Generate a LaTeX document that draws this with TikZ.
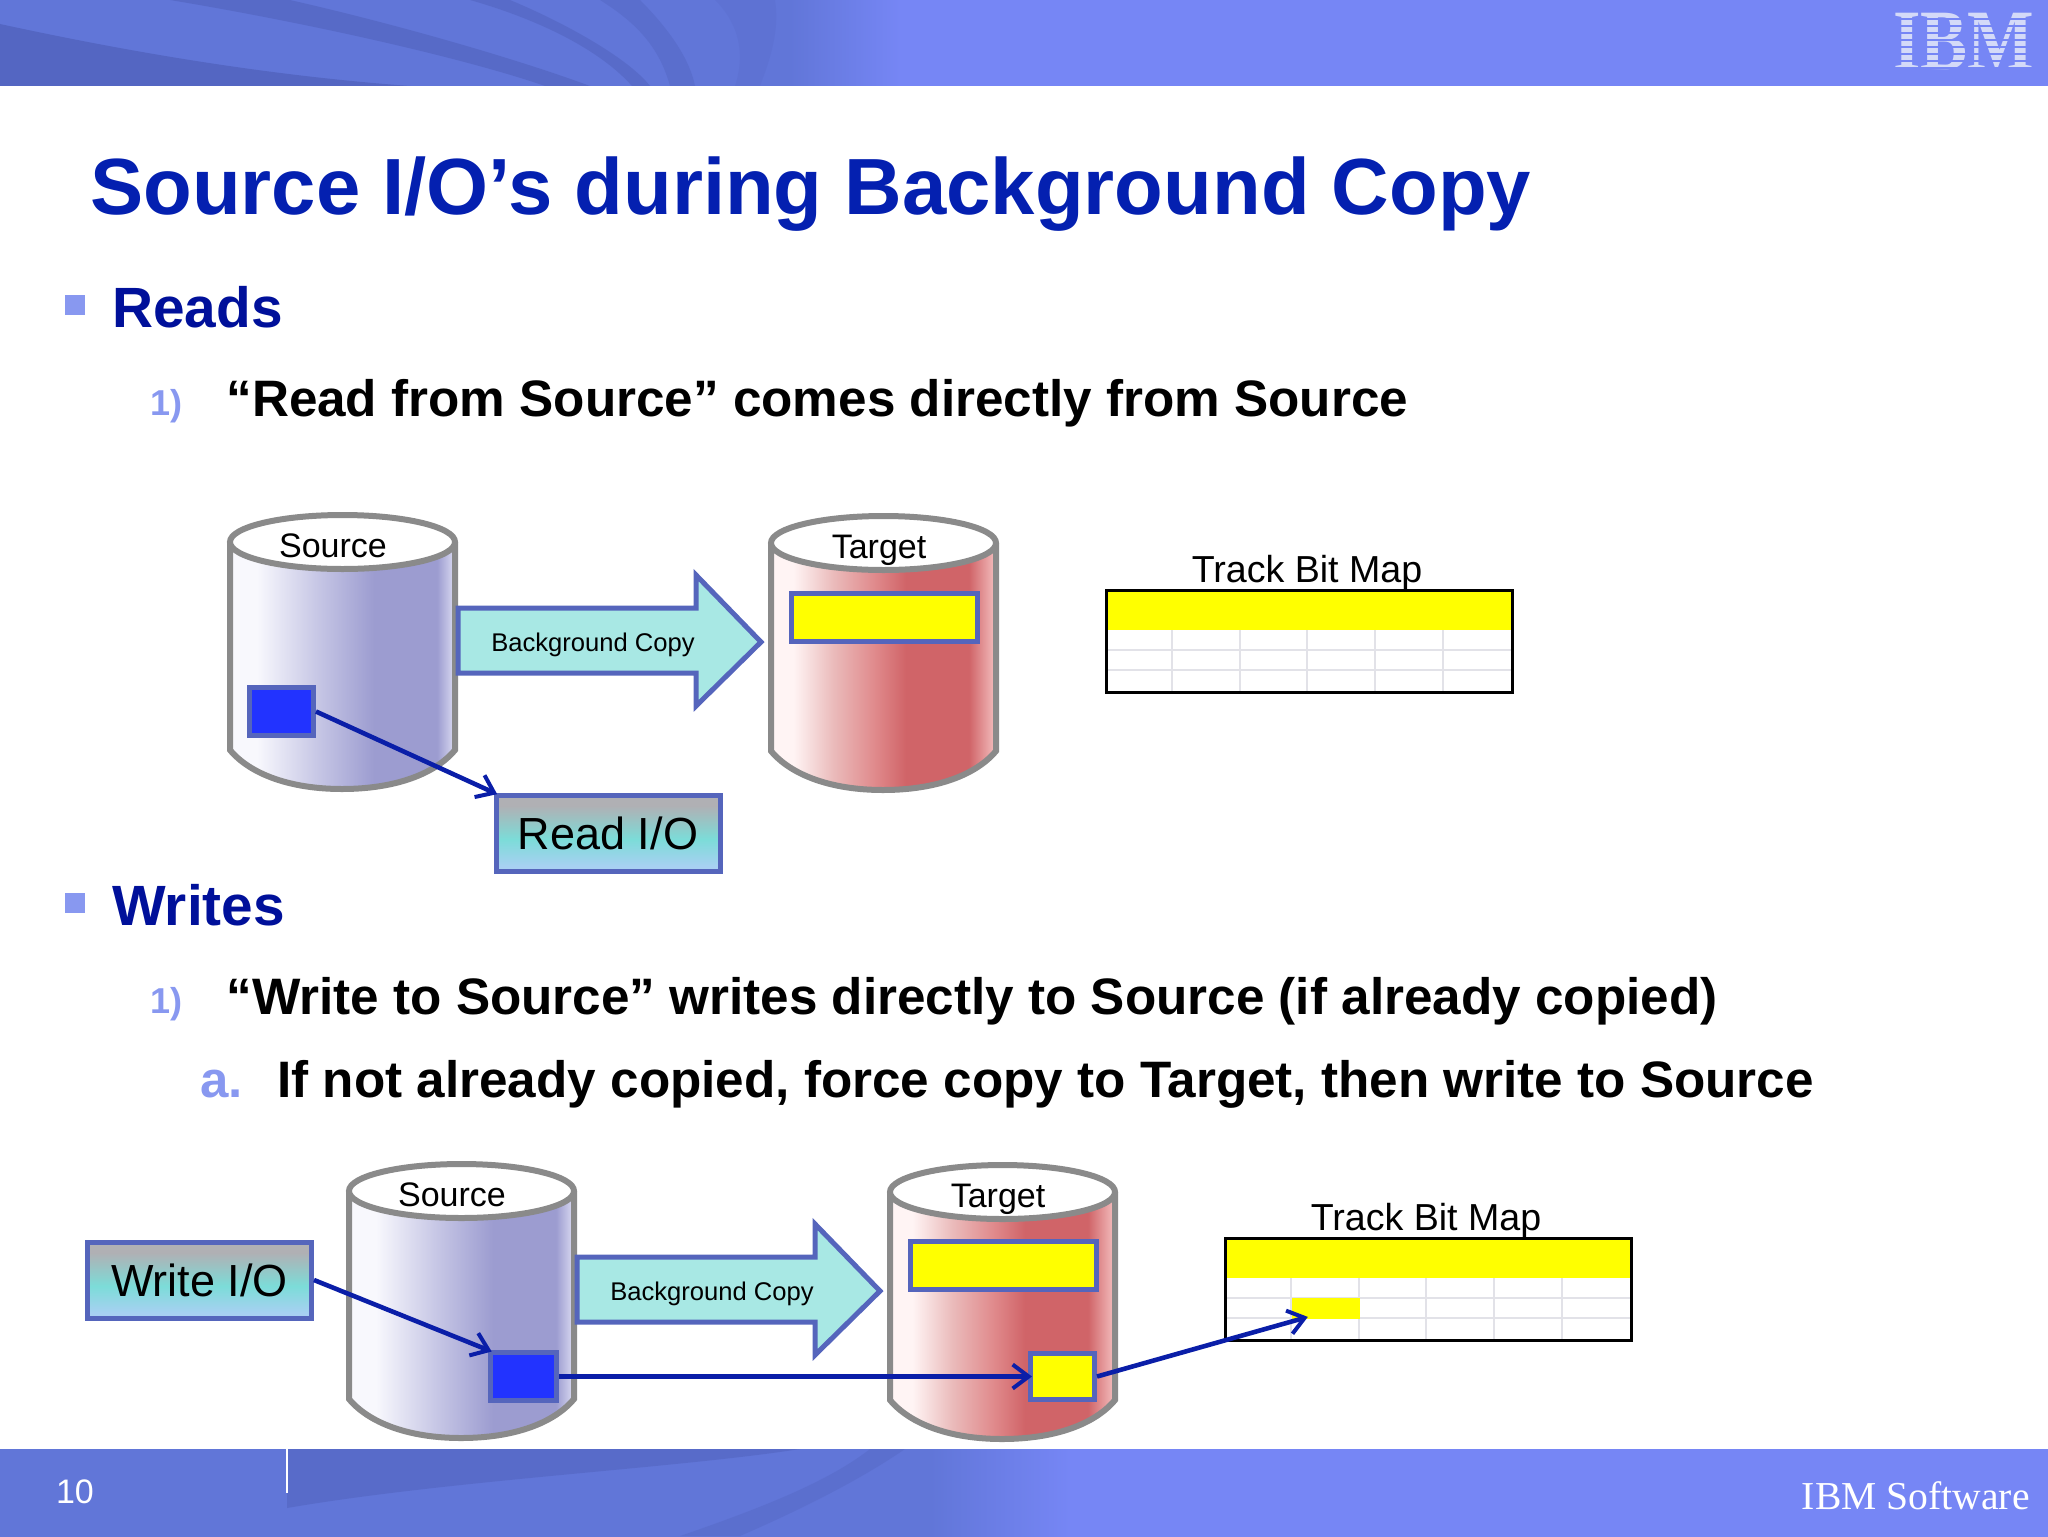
\documentclass[tikz,border=0pt]{standalone}
\usepackage{fontspec}
\setmainfont{Liberation Sans}
\newfontfamily\seriffont{Liberation Serif}
\usetikzlibrary{arrows.meta}

\definecolor{bandblue}{HTML}{7686F5}
\definecolor{banddark}{HTML}{6176D8}
\definecolor{swoosh}{HTML}{4C5CB4}
\definecolor{titleblue}{HTML}{0420B0}
\definecolor{navy}{HTML}{00109A}
\definecolor{arrowblue}{HTML}{0A1EA8}
\definecolor{edgeblue}{HTML}{5565BC}
\definecolor{markblue}{HTML}{8898F0}
\definecolor{drumgrey}{HTML}{8A8A8A}
\definecolor{aqua}{HTML}{A8E8E4}
\definecolor{gridgrey}{HTML}{E2E2E8}
\definecolor{sqblue}{HTML}{2233FF}
\definecolor{marker}{HTML}{FFFF00}
\definecolor{logolight}{HTML}{D4DAF8}

\definecolor{srcA}{HTML}{F8F8FD}
\definecolor{srcB}{HTML}{C8C8E6}
\definecolor{srcC}{HTML}{9C9CD0}
\definecolor{srcD}{HTML}{DCDCF2}
\definecolor{tgtA}{HTML}{FFF4F4}
\definecolor{tgtB}{HTML}{EABABA}
\definecolor{tgtM}{HTML}{E08A8C}
\definecolor{tgtC}{HTML}{D06468}
\definecolor{tgtD}{HTML}{F4C0C0}
\definecolor{ioTop}{HTML}{B0B0B4}
\definecolor{ioMid}{HTML}{7CDCD8}
\definecolor{ioLow}{HTML}{A8D0F2}

\pgfdeclarehorizontalshading{sourcefill}{100bp}{color(0bp)=(srcA);color(31bp)=(srcA);
  color(44bp)=(srcB);color(57bp)=(srcC);color(71bp)=(srcC);color(75bp)=(srcD);color(100bp)=(srcD)}
\pgfdeclarehorizontalshading{targetfill}{100bp}{color(0bp)=(tgtA);color(30bp)=(tgtA);
  color(39bp)=(tgtB);color(48bp)=(tgtM);color(55bp)=(tgtC);color(69bp)=(tgtC);color(75bp)=(tgtD);color(100bp)=(tgtD)}
\pgfdeclareverticalshading{iofill}{100bp}{color(0bp)=(ioLow);color(28bp)=(ioLow);
  color(46bp)=(ioMid);color(68bp)=(ioTop);color(100bp)=(ioTop)}

\tikzset{
  bigtitle/.style={anchor=base west,inner sep=0pt,text=titleblue,font=\fontsize{39.85}{48}\selectfont\bfseries},
  headitem/.style={anchor=base west,inner sep=0pt,text=navy,font=\fontsize{28.4}{34}\selectfont\bfseries},
  subitem/.style={anchor=base west,inner sep=0pt,font=\fontsize{25.62}{30}\selectfont\bfseries},
  submark/.style={anchor=base west,inner sep=0pt,text=markblue,font=\fontsize{18}{22}\selectfont\bfseries},
  lettermark/.style={anchor=base west,inner sep=0pt,text=markblue,font=\fontsize{25.5}{30}\selectfont\bfseries},
  bullet/.style={fill=markblue,draw=none,minimum width=10pt,minimum height=10pt,inner sep=0pt},
  drumlabel/.style={anchor=base,inner sep=0pt,font=\fontsize{17}{20}\selectfont},
  maplabel/.style={anchor=base,inner sep=0pt,font=\fontsize{18.8}{22}\selectfont},
  copylabel/.style={inner sep=0pt,font=\fontsize{12.8}{15}\selectfont},
  iobox/.style={draw=edgeblue,line width=2.5pt,shade,shading=iofill,inner sep=0pt,font=\fontsize{22.5}{27}\selectfont,
    minimum width=112pt,minimum height=38pt},
  block/.style={draw=edgeblue,line width=2.5pt,inner sep=0pt,anchor=north west},
  link/.style={draw=arrowblue,line width=2.3pt,shorten >=-2pt,-{Straight Barb[length=8pt,width=12pt,line width=2pt]}},
  footertext/.style={inner sep=0pt,anchor=base,text=white},
}

% x y shading label labelx
\newcommand{\drum}[5]{
  \begin{scope}[shift={(#1,#2)}]
    \shade[shading=#3] (0,27) -- (0,235) .. controls (20,259) and (60,274) .. (112,274) .. controls (165,274) and (205,259) .. (225,235) -- (225,27) -- cycle;
    \draw[drumgrey,line width=3pt] (0,27) -- (0,235) .. controls (20,259) and (60,274) .. (112,274) .. controls (165,274) and (205,259) .. (225,235) -- (225,27);
    \draw[drumgrey,line width=3pt,fill=white] (112.5,27) ellipse [x radius=112.5,y radius=27];
    \node[drumlabel] at (#5,42) {#4};
  \end{scope}
}

% x y name
\newcommand{\copyarrow}[3]{
  \begin{scope}[shift={(#1,#2)}]
    \draw[edgeblue,line width=2.5pt,fill=aqua] (3,93) -- (241,93) -- (241,60) -- (306,127) -- (241,191) -- (241,158) -- (3,158) -- cycle;
    \node[copylabel] (#3) at (138,130) {Background Copy};
  \end{scope}
}

% x y name
\newcommand{\bitmap}[3]{
  \begin{scope}[shift={(#1,#2)}]
    \fill[marker] (0,0) rectangle (406,41);
    \foreach \yline in {61,81}
      \draw[gridgrey,line width=0.7pt] (0,\yline) -- (406,\yline);
    \foreach \xline in {67,135,202,270,338}
      \draw[gridgrey,line width=0.7pt] (\xline,41) -- (\xline,102);
    \node[draw=black,line width=1.5pt,inner sep=0pt,anchor=north west,minimum width=203pt,minimum height=51pt] (#3) at (0,0) {};
    \node[maplabel] at (202,-7) {Track Bit Map};
  \end{scope}
}

\begin{document}
\begin{tikzpicture}[x=0.5pt,y=0.5pt,yscale=-1,xscale=1]
\useasboundingbox (0,0) rectangle (2048,1536);

% header band
\fill[bandblue] (0,0) rectangle (2048,86);
\fill[banddark] (0,0) rectangle (790,86);
\shade[left color=banddark,right color=bandblue] (790,0) rectangle (900,86);
\fill[swoosh,opacity=0.45] (170,0) -- (290,0) .. controls (400,25) and (520,60) .. (590,86) -- (545,86) .. controls (470,60) and (320,25) .. (170,0) -- cycle;
\fill[swoosh,opacity=0.4] (470,0) -- (510,0) .. controls (570,25) and (630,60) .. (650,86) -- (632,86) .. controls (600,50) and (540,20) .. (470,0) -- cycle;
\fill[swoosh,opacity=0.3] (600,0) -- (640,0) .. controls (670,30) and (690,60) .. (695,86) -- (670,86) .. controls (660,50) and (640,25) .. (600,0) -- cycle;
\fill[swoosh,opacity=0.12] (715,0) -- (775,0) .. controls (780,30) and (770,60) .. (760,86) -- (735,86) .. controls (745,55) and (740,25) .. (715,0) -- cycle;
\fill[swoosh,opacity=0.6] (0,24) .. controls (120,50) and (260,75) .. (410,86) -- (0,86) -- cycle;
\node[inner sep=0pt,text=logolight,font=\fontsize{43}{50}\seriffont\bfseries,xscale=0.82] (ibmlogo) at (1964,41) {IBM};
\foreach \ystripe in {18,25,...,67}
  \fill[bandblue] (1885,\ystripe) rectangle (2040,\ystripe+2);

% footer band
\fill[bandblue] (0,1449) rectangle (2048,1540);
\fill[banddark] (0,1449) rectangle (930,1540);
\shade[left color=banddark,right color=bandblue] (930,1449) rectangle (1070,1540);
\fill[swoosh,opacity=0.4] (287,1449) -- (800,1449) .. controls (680,1468) and (450,1480) .. (287,1508) -- cycle;
\fill[swoosh,opacity=0.25] (905,1449) .. controls (860,1480) and (800,1510) .. (740,1536) -- (680,1536) .. controls (770,1505) and (830,1480) .. (870,1449) -- cycle;
\draw[white,line width=1pt] (287,1449) -- (287,1493);
\node[footertext,font=\fontsize{17}{20}\selectfont] (pagenum) at (75,1503) {10};
\node[footertext,anchor=base east,font=\fontsize{19.8}{23}\seriffont] (brand) at (2030,1509) {IBM Software};

% slide text
\node[bigtitle] (title) at (90,214) {Source I/O’s during Background Copy};
\node[bullet] (bulletA) at (74.5,305) {};
\node[headitem] (reads) at (112,327) {Reads};
\node[submark] (markA) at (150,415) {1)};
\node[subitem] (lineA) at (226,416) {“Read from Source” comes directly from Source};
\node[bullet] (bulletB) at (74.5,903) {};
\node[headitem] (writes) at (112,925) {Writes};
\node[submark] (markB) at (150,1013) {1)};
\node[subitem] (lineB) at (226,1014) {“Write to Source” writes directly to Source (if already copied)};
\node[lettermark] (markC) at (200,1097) {a.};
\node[subitem] (lineC) at (277,1097) {If not already copied, force copy to Target, then write to Source};

% reads
\drum{230}{515}{sourcefill}{Source}{103}
\drum{771}{516}{targetfill}{Target}{108}
\copyarrow{455}{515}{copyR}
\node[block,fill=marker,minimum width=93pt,minimum height=24pt] (spotR) at (789,591) {};
\node[block,fill=sqblue,minimum width=32pt,minimum height=24pt] (dataR) at (247,685) {};
\bitmap{1105}{589}{mapR}
\node[iobox] (readio) at (608,833) {Read I/O};
\draw[link] (dataR.east) -- (readio.north west);

% writes
\drum{349}{1164}{sourcefill}{Source}{103}
\drum{890}{1165}{targetfill}{Target}{108}
\copyarrow{574}{1164}{copyW}
\node[block,fill=marker,minimum width=93pt,minimum height=24pt] (spotW) at (908,1239) {};
\node[block,fill=sqblue,minimum width=33pt,minimum height=24pt] (dataW) at (488,1350) {};
\node[block,fill=marker,minimum width=32pt,minimum height=23pt] (hitW) at (1028,1351) {};
\bitmap{1224}{1237}{mapW}
\fill[marker] (1292,1298) rectangle (1360,1319);
\coordinate (cellW) at (1304,1318);
\node[iobox] (writeio) at (199.5,1280) {Write I/O};
\draw[link] (writeio.east) -- (dataW.north west);
\draw[link] (dataW.east) -- (hitW.west);
\draw[link] (hitW.east) -- (cellW);

\end{tikzpicture}
\end{document}
